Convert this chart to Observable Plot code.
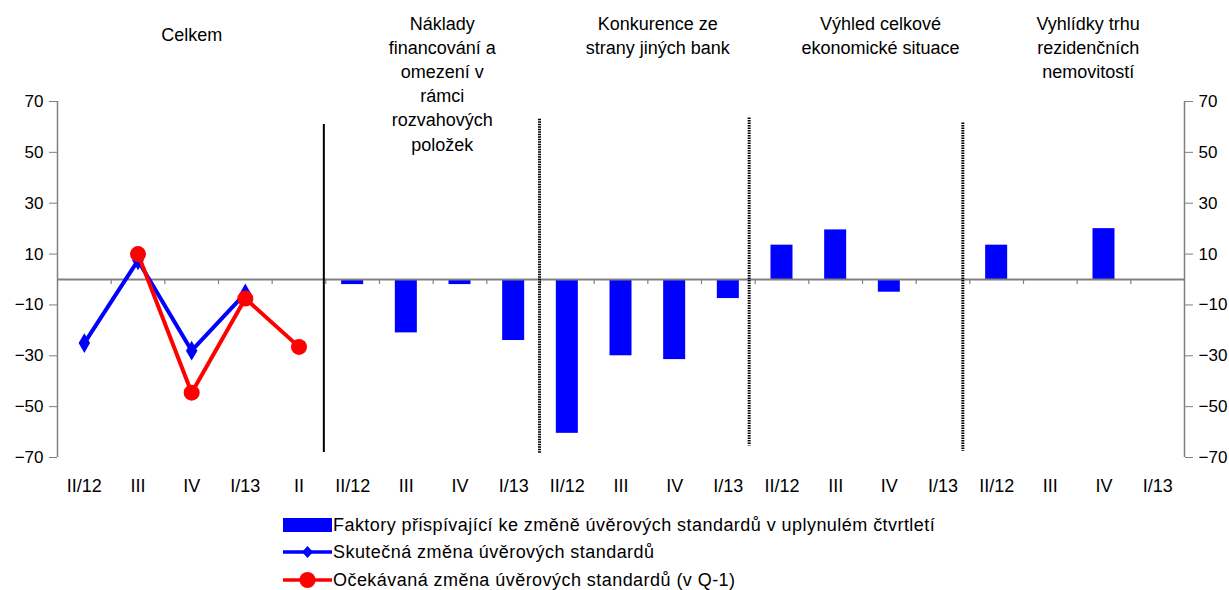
<!DOCTYPE html>
<html>
<head>
<meta charset="utf-8">
<script src="https://cdn.jsdelivr.net/npm/d3@7"></script>
<script src="https://cdn.jsdelivr.net/npm/@observablehq/plot@0.6"></script>
<style>
  html, body { margin: 0; padding: 0; background: #fff; }
  body { width: 1229px; height: 590px; position: relative; overflow: hidden;
         font-family: "Liberation Sans", Arial, sans-serif; }
  #chart { position: absolute; left: 0; top: 0; }
  .leg { position: absolute; left: 283px; height: 20px; display: flex; align-items: center;
         font-size: 18px; color: #000; white-space: nowrap; }
  .leg span { letter-spacing: 0.45px; }
  .leg svg { display: block; margin-right: 1px; }
</style>
</head>
<body>
<div id="chart"></div>
<div id="legend"></div>
<script>
// ---- data ----
const categories = ["II/12","III","IV","I/13","II",
                    "II/12","III","IV","I/13",
                    "II/12","III","IV","I/13",
                    "II/12","III","IV","I/13",
                    "II/12","III","IV","I/13"];
const groupTitles = [
  "Celkem",
  "Náklady\nfinancování a\nomezení v\nrámci\nrozvahových\npoložek",
  "Konkurence ze\nstrany jiných bank",
  "Výhled celkové\nekonomické situace",
  "Vyhlídky trhu\nrezidenčních\nnemovitostí"
];
const groupSizes = [5, 4, 4, 4, 4];
const factorNaklady    = [-2, -21, -2, -24];
const factorKonkurence = [-60.5, -30, -31.5, -7.5];
const factorVyhled     = [13.5, 19.5, -5, 0];
const factorVyhlidky   = [13.5, 0, 20, 0];
const actualChange   = [-25, 7.5, -28, -5.5, null];
const expectedChange = [null, 10, -44.5, -7.5, -26.5];
const yTicks = [-70, -50, -30, -10, 10, 30, 50, 70];
const legendLabels = [
  "Faktory přispívající ke změně úvěrových standardů v uplynulém čtvrtletí",
  "Skutečná změna úvěrových standardů",
  "Očekávaná změna úvěrových standardů (v Q-1)"
];

// ---- derived tables ----
const groupStart = groupSizes.map((s, i) => d3.sum(groupSizes.slice(0, i)));
const factorValues = [factorNaklady, factorKonkurence, factorVyhled, factorVyhlidky];
const bars = [];
factorValues.forEach((vals, g) => vals.forEach((v, j) => bars.push({i: groupStart[g + 1] + j, v})));
const actualData = actualChange.map((v, j) => ({i: j, v})).filter(d => d.v != null);
const expectedData = expectedChange.map((v, j) => ({i: j, v})).filter(d => d.v != null);
const n = categories.length;
const boundaries = d3.range(1, n);

const FONT = "Liberation Sans, Arial, sans-serif";
const BLUE = "#0000ff", RED = "#ff0000", GREY = "#808080";
const barPad = 0.295;

const titleDx = [0, 9, 10, 18, 11];
const titleDy = [33, 82, 34, 34, 46]; // px below the top of the svg for block centre
const marginTop = 101;

const titleMarks = groupTitles.map((t, g) => Plot.text([t], {
  x: groupStart[g] + groupSizes[g] / 2,
  frameAnchor: "top",
  dy: titleDy[g] - marginTop,
  dx: titleDx[g],
  text: d => d,
  lineAnchor: "middle",
  lineHeight: 1.34,
  fontSize: 18,
  fill: "#000"
}));

const sepDx = [-2, -1, -6, -7];
const sepExt = [[61, -68], [63, -68.5], [63.5, -65.5], [61.5, -67.5]];
const sepMarks = groupStart.slice(1).map((b, k) => Plot.ruleX([b], {
  x: d => d,
  y1: sepExt[k][0], y2: sepExt[k][1],
  dx: sepDx[k],
  stroke: "#000",
  strokeWidth: k === 0 ? 2 : 3,
  strokeDasharray: k === 0 ? null : "1.5,1"
}));

const plot = Plot.plot({
  width: 1229,
  height: 505,
  marginLeft: 57,
  marginRight: 45,
  marginTop,
  marginBottom: 48,
  style: {fontFamily: FONT, background: "#fff", overflow: "visible"},
  x: {type: "linear", domain: [0, n]},
  y: {domain: [-70, 70]},
  marks: [
    // bars
    Plot.rectY(bars, {x1: d => d.i + barPad, x2: d => d.i + 1 - barPad, y1: 0, y2: d => d.v, fill: BLUE}),
    // zero line & category ticks
    Plot.ruleY([0], {stroke: GREY, strokeWidth: 2}),
    Plot.ruleX(boundaries, {x: d => d, y1: 0, y2: 0, insetBottom: -5, stroke: GREY, strokeWidth: 1.2}),
    // separators
    ...sepMarks,
    // y axes
    Plot.axisY(yTicks, {anchor: "left", tickSize: 8, tickPadding: 6, fontSize: 17, stroke: GREY, color: "#000", label: null}),
    Plot.axisY(yTicks, {anchor: "right", tickSize: 8, tickPadding: 6, fontSize: 17, stroke: GREY, color: "#000", label: null}),
    Plot.ruleX([0, n], {stroke: GREY, strokeWidth: 1.5}),
    // x labels
    Plot.axisX(d3.range(n).map(i => i + 0.5), {anchor: "bottom", tickSize: 0, tickPadding: 22, fontSize: 18,
      tickFormat: d => categories[Math.floor(d)], label: null, color: "#000"}),
    // lines
    Plot.line(actualData, {x: d => d.i + 0.5, y: "v", stroke: BLUE, strokeWidth: 4}),
    Plot.dot(actualData, {x: d => d.i + 0.5, y: "v", symbol: "diamond", r: 6, fill: BLUE}),
    Plot.line(expectedData, {x: d => d.i + 0.5, y: "v", stroke: RED, strokeWidth: 4}),
    Plot.dot(expectedData, {x: d => d.i + 0.5, y: "v", r: 8, fill: RED}),
    // titles
    ...titleMarks
  ]
});
document.getElementById("chart").appendChild(plot);

// ---- legend ----
const legend = document.getElementById("legend");
const rowCenters = [525, 552, 580];
const symbols = [
  `<rect x="0" y="3" width="49" height="14" fill="${BLUE}"/>`,
  `<line x1="0" y1="10" x2="49" y2="10" stroke="${BLUE}" stroke-width="3.5"/><path d="M24.5,4 L30,10 L24.5,16 L19,10 Z" fill="${BLUE}"/>`,
  `<line x1="0" y1="10" x2="49" y2="10" stroke="${RED}" stroke-width="3.5"/><circle cx="24.5" cy="10" r="8" fill="${RED}"/>`
];
legendLabels.forEach((lab, k) => {
  const row = document.createElement("div");
  row.className = "leg";
  row.style.top = (rowCenters[k] - 10) + "px";
  row.innerHTML = `<svg width="49" height="20" viewBox="0 0 49 20" style="overflow:visible">${symbols[k]}</svg><span>${lab}</span>`;
  legend.appendChild(row);
});
</script>
</body>
</html>
